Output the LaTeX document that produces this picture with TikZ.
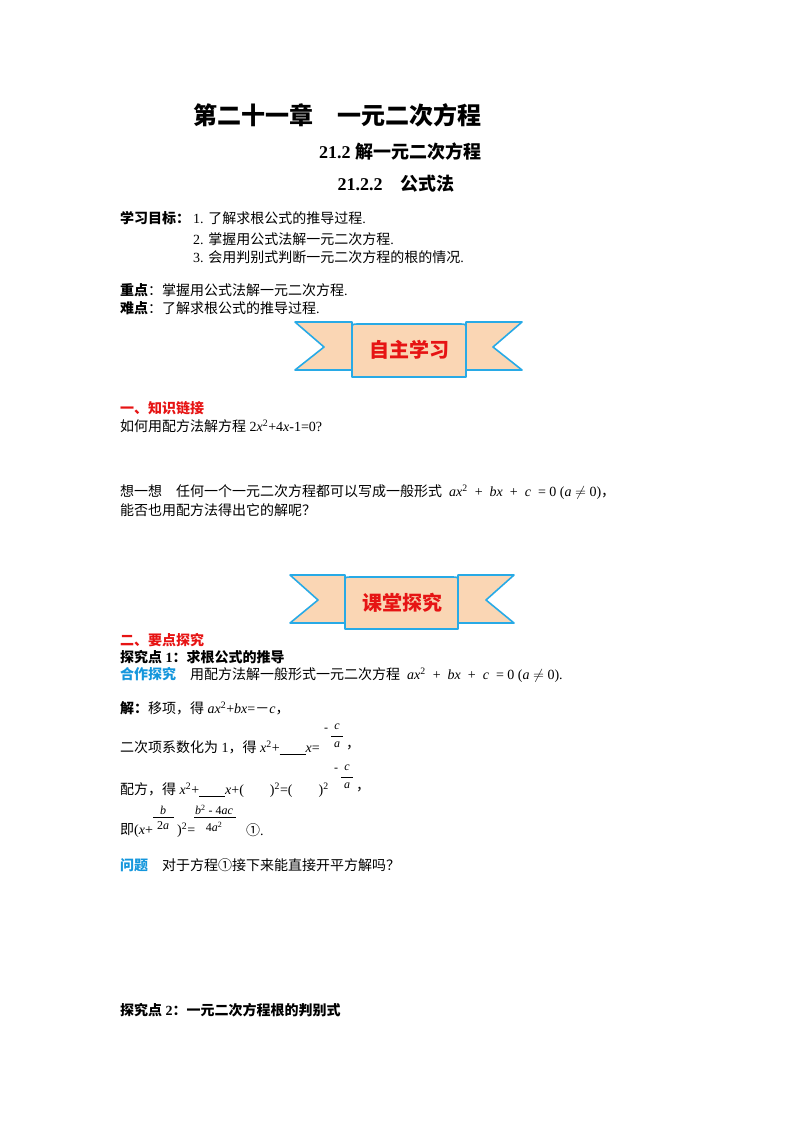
\documentclass[tikz,border=0pt]{standalone}
\usepackage{fontspec}
\setmainfont{Liberation Serif}
\newfontfamily\cjk{Noto Sans CJK SC}
\definecolor{rib}{RGB}{250,214,180}
\definecolor{ribl}{RGB}{40,170,230}
\definecolor{hred}{RGB}{230,20,20}
\definecolor{hblue}{RGB}{20,150,220}
\tikzset{t/.style={anchor=west,inner sep=0pt,font=\fontsize{14}{16}\selectfont},
 ribbon/.style={fill=rib,draw=ribl,line width=1.6pt,line join=round},
 bt/.style={font=\cjk\bfseries\fontsize{20}{22}\selectfont,text=hred}}
\newcommand\mv[1]{\textit{#1}}
\begin{document}
\begin{tikzpicture}[x=1pt,y=-1pt]
\useasboundingbox (0,0) rectangle (800,1132);
\node[anchor=center,font=\cjk\bfseries\fontsize{24}{26}\selectfont] (title) at (337,115) {第二十一章\quad 一元二次方程};
\node[anchor=center,font=\bfseries\fontsize{18}{20}\selectfont] (sub1) at (400,152) {21.2 {\cjk 解一元二次方程}};
\node[anchor=center,font=\bfseries\fontsize{18}{20}\selectfont] (sub2) at (396,184) {21.2.2\quad{\cjk 公式法}};
\node[t] (g0) at (120,218) {\cjk\bfseries 学习目标：};
\node[t] (g1) at (193,218) {1. {\cjk 了解求根公式的推导过程}.};
\node[t] (g2) at (193,239) {2. {\cjk 掌握用公式法解一元二次方程}.};
\node[t] (g3) at (193,257) {3. {\cjk 会用判别式判断一元二次方程的根的情况}.};
\node[t] (k1) at (120,290) {{\cjk\bfseries 重点}{\cjk ：掌握用公式法解一元二次方程}.};
\node[t] (k2) at (120,308) {{\cjk\bfseries 难点}{\cjk ：了解求根公式的推导过程}.};
% banner 1
\draw[ribbon] (352,322) -- (295,322) -- (324,347) -- (295,370) -- (352,370) -- cycle;
\draw[ribbon] (466,322) -- (522,322) -- (493,347) -- (522,370) -- (466,370) -- cycle;
\draw[ribbon] (352,377) -- (352,330) .. controls (352,324) .. (358,324) -- (460,324) .. controls (466,324) .. (466,330) -- (466,377) -- cycle;
\node[bt] (b1) at (409,350) {自主学习};
\node[t,font=\cjk\bfseries\fontsize{14}{16}\selectfont,text=hred] (h1) at (120,408) {一、知识链接};
\node[t] (q1) at (120,426) {{\cjk 如何用配方法解方程} 2\mv{x}\textsuperscript{2}+4\mv{x}-1=0?};
\node[t] (x1) at (120,492) {{\cjk 想一想\quad 任何一个一元二次方程都可以写成一般形式} \ \mv{ax}\textsuperscript{2} \ + \ \mv{bx} \ + \ \mv{c} \ = 0 (\mv{a} $\neq$ 0){\cjk ，}};
\node[t] (x2) at (120,510) {\cjk 能否也用配方法得出它的解呢？};
% banner 2
\draw[ribbon] (345,575) -- (290,575) -- (318,600) -- (290,623) -- (345,623) -- cycle;
\draw[ribbon] (458,575) -- (514,575) -- (486,600) -- (514,623) -- (458,623) -- cycle;
\draw[ribbon] (345,629) -- (345,582) .. controls (345,577) .. (351,577) -- (452,577) .. controls (458,577) .. (458,582) -- (458,629) -- cycle;
\node[bt] (b2) at (402,603) {课堂探究};
\node[t,font=\cjk\bfseries\fontsize{14}{16}\selectfont,text=hred] (h2) at (120,640) {二、要点探究};
\node[t,font=\bfseries\fontsize{14}{16}\selectfont] (p1) at (120,657) {{\cjk 探究点} 1{\cjk ：求根公式的推导}};
\node[t] (c1) at (120,675) {{\cjk\bfseries\color{hblue}合作探究}\quad{\cjk 用配方法解一般形式一元二次方程} \ \mv{ax}\textsuperscript{2} \ + \ \mv{bx} \ + \ \mv{c} \ = 0 (\mv{a} $\neq$ 0).};
\node[t] (s1) at (120,708) {{\cjk\bfseries 解：}{\cjk 移项，得} \mv{ax}\textsuperscript{2}+\mv{bx}={\cjk －}\mv{c}{\cjk ，}};
\node[t] (s2) at (120,748) {{\cjk 二次项系数化为} 1{\cjk ，得} \mv{x}\textsuperscript{2}+\underline{\hspace{26pt}}\mv{x}=};
\node[t,font=\fontsize{12}{14}\selectfont] (f1) at (324,730) {-};
\node[anchor=center,inner sep=1pt,font=\fontsize{12}{14}\selectfont] (f1n) at (337,727) {\mv{c}};
\node[anchor=center,inner sep=1pt,font=\fontsize{12}{14}\selectfont] (f1d) at (337,745) {\mv{a}};
\draw[line width=0.5pt] (331,736) -- (343,736);
\node[t] (s2e) at (346,748) {\cjk ，};
\node[t] (s3) at (120,790) {{\cjk 配方，得} \mv{x}\textsuperscript{2}+\underline{\hspace{26pt}}\mv{x}+(\hspace{26pt})\textsuperscript{2}=(\hspace{26pt})\textsuperscript{2}};
\node[t,font=\fontsize{12}{14}\selectfont] (f2) at (334,770) {-};
\node[anchor=center,inner sep=1pt,font=\fontsize{12}{14}\selectfont] (f2n) at (347,768) {\mv{c}};
\node[anchor=center,inner sep=1pt,font=\fontsize{12}{14}\selectfont] (f2d) at (347,786) {\mv{a}};
\draw[line width=0.5pt] (341,777) -- (353,777);
\node[t] (s3e) at (356,790) {\cjk ，};
\node[t] (s4) at (120,830) {{\cjk 即}(\mv{x}+};
\node[anchor=center,inner sep=1pt,font=\fontsize{12}{14}\selectfont] (f3n) at (163,810) {\mv{b}};
\node[anchor=center,inner sep=1pt,font=\fontsize{12}{14}\selectfont] (f3d) at (163,826) {2\mv{a}};
\draw[line width=0.5pt] (153,817) -- (174,817);
\node[t] (s4b) at (177,830) {)\textsuperscript{2}=};
\node[anchor=center,inner sep=1pt,font=\fontsize{12}{14}\selectfont] (f4n) at (214,810) {\mv{b}\textsuperscript{2} - 4\mv{ac}};
\node[anchor=center,inner sep=1pt,font=\fontsize{12}{14}\selectfont] (f4d) at (214,827) {4\mv{a}\textsuperscript{2}};
\draw[line width=0.5pt] (194,817) -- (236,817);
\node[t] (s4c) at (246,830) {{\cjk ①}.};
\node[t] (w1) at (120,865) {{\cjk\bfseries\color{hblue}问题}\quad{\cjk 对于方程①接下来能直接开平方解吗？}};
\node[t,font=\bfseries\fontsize{14}{16}\selectfont] (p2) at (120,1010) {{\cjk 探究点} 2{\cjk ：一元二次方程根的判别式}};
\end{tikzpicture}
\end{document}
